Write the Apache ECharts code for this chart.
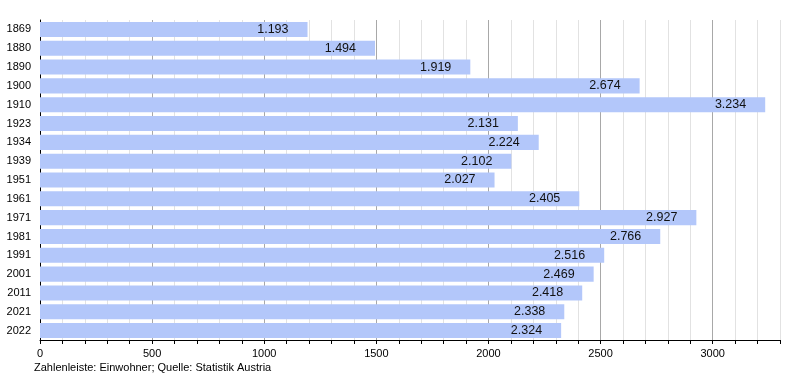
<!DOCTYPE html>
<html>
<head>
<meta charset="utf-8">
<script src="https://cdn.jsdelivr.net/npm/echarts@6/dist/echarts.min.js"></script>
<style>html,body{margin:0;padding:0;background:#fff}#c{width:800px;height:380px}</style>
</head>
<body>
<div id="c"></div>
<script>
const years = ['1869','1880','1890','1900','1910','1923','1934','1939','1951','1961','1971','1981','1991','2001','2011','2021','2022'];
const population = [1193,1494,1919,2674,3234,2131,2224,2102,2027,2405,2927,2766,2516,2469,2418,2338,2324];
const footerText = 'Zahlenleiste: Einwohner; Quelle: Statistik Austria';

function fmt(v){
  const s = String(v);
  return s.replace(/\B(?=(\d{3})+(?!\d))/g, '.');
}
const chart = echarts.init(document.getElementById('c'));
const font = 'Liberation Sans, Arial, Helvetica, sans-serif';
chart.setOption({
  animation: false,
  textStyle: {fontFamily: font},
  grid: {left: 40, right: 20, top: 20, bottom: 40, containLabel: false},
  xAxis: {
    type: 'value', min: 0, max: 3300, interval: 100,
    axisLine: {show: true, lineStyle: {color: '#000', width: 1}},
    axisTick: {show: true, length: 4, lineStyle: {color: '#000'}},
    axisLabel: {color: '#000', fontSize: 11, fontFamily: font, margin: 8,
      formatter: v => (v % 500 === 0 ? String(v) : '')},
    splitLine: {show: true, lineStyle: {color: ['#a8a8a8','#e2e2e2','#e2e2e2','#e2e2e2','#e2e2e2'], width: 1}}
  },
  yAxis: {
    type: 'category', data: years, inverse: true,
    axisLine: {show: true, lineStyle: {color: '#000', width: 1}},
    axisTick: {show: false},
    axisLabel: {color: '#000', fontSize: 11, fontFamily: font, margin: 9},
    splitLine: {show: false}
  },
  series: [{
    type: 'bar', data: population, barCategoryGap: '20%',
    itemStyle: {color: '#b3c7fa'},
    label: {show: true, position: 'insideRight', distance: 19, color: '#111', fontSize: 12.5, fontFamily: font,
      formatter: p => fmt(p.value)}
  }],
  graphic: [{type: 'text', left: 34, top: 362, style: {text: footerText, fill: '#000', fontSize: 11, fontFamily: font}}]
});
</script>
</body>
</html>
